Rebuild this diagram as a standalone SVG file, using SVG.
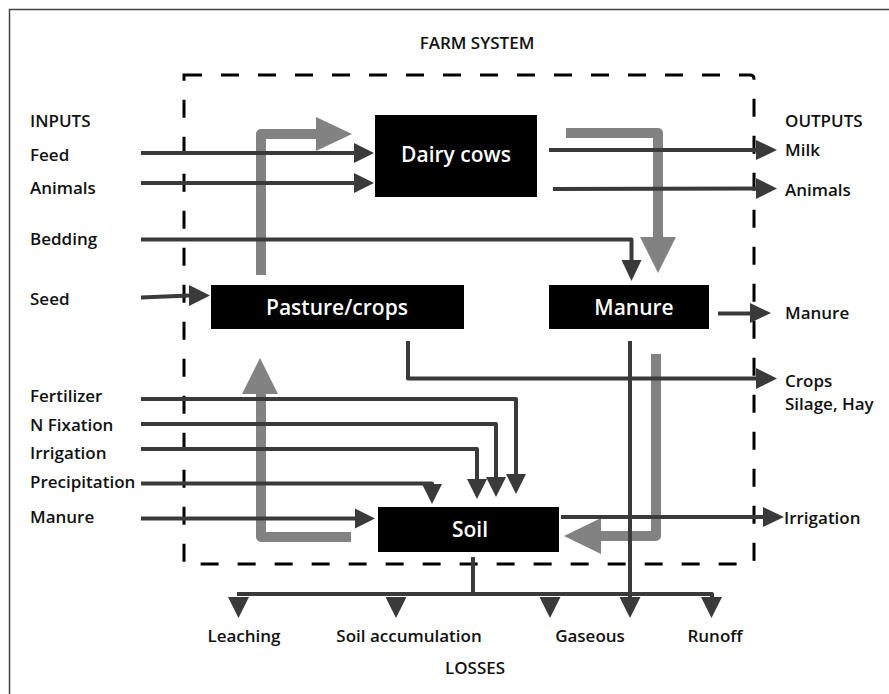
<svg xmlns="http://www.w3.org/2000/svg" width="889" height="694" viewBox="0 0 889 694">
<defs>
<style>
.t{font-family:"Open Sans","Noto Sans","Liberation Sans",sans-serif;font-weight:600;font-size:17px;fill:#111}
.bt{font-family:"Open Sans","Noto Sans","Liberation Sans",sans-serif;font-weight:600;font-size:21px;fill:#fff;text-anchor:middle}
.c{text-anchor:middle}
.ln{fill:none;stroke:#3a3a3a;stroke-width:4;stroke-linejoin:round}
.gl{fill:none;stroke:#828282;stroke-width:10;stroke-linejoin:round}
.ah{fill:#3a3a3a}
.gh{fill:#828282}
.box{fill:#000}
</style>
</defs>
<rect width="889" height="694" fill="#fff"/>
<path d="M9.5,694 V9.5 H889" fill="none" stroke="#444" stroke-width="1.5"/>
<text class="t c" x="477" y="49">FARM SYSTEM</text>
<path d="M184,75 H750 Q754,75 754,79 V560 Q754,564 750,564 H184 Z" fill="none" stroke="#000" stroke-width="3" stroke-dasharray="18 19"/>

<g id="labels">
<text class="t" x="30" y="127">INPUTS</text>
<text class="t" x="30" y="161">Feed</text>
<text class="t" x="30" y="194">Animals</text>
<text class="t" x="30" y="245">Bedding</text>
<text class="t" x="30" y="305">Seed</text>
<text class="t" x="30" y="402">Fertilizer</text>
<text class="t" x="30" y="431">N Fixation</text>
<text class="t" x="30" y="459">Irrigation</text>
<text class="t" x="30" y="488">Precipitation</text>
<text class="t" x="30" y="523">Manure</text>
<text class="t" x="785" y="127">OUTPUTS</text>
<text class="t" x="785" y="156">Milk</text>
<text class="t" x="785" y="196">Animals</text>
<text class="t" x="785" y="319">Manure</text>
<text class="t" x="785" y="387">Crops</text>
<text class="t" x="785" y="410">Silage, Hay</text>
<text class="t" x="784" y="524">Irrigation</text>
<text class="t c" x="244" y="642">Leaching</text>
<text class="t c" x="409" y="642">Soil accumulation</text>
<text class="t c" x="590" y="642">Gaseous</text>
<text class="t c" x="715" y="642">Runoff</text>
<text class="t c" x="475" y="674">LOSSES</text>
</g>

<g id="connectors">
<!-- gray flows -->
<path class="gl" d="M261,275 V134 H316"/>
<polygon class="gh" points="316,117 352,134 316,151"/>
<path class="gl" d="M566,133 H658 V238"/>
<polygon class="gh" points="640,237 676,237 658,273"/>
<path class="gl" d="M656,354 V536 H600"/>
<polygon class="gh" points="601,518 601,554 564,536"/>
<path class="gl" d="M351,537 H261 V393"/>
<polygon class="gh" points="242,394 278,394 260,358"/>
<!-- inputs -->
<path class="ln" d="M141,153 H355"/>
<polygon class="ah" points="354,143 374,153 354,163"/>
<path class="ln" d="M141,183 H355"/>
<polygon class="ah" points="354,173 374,183 354,193"/>
<path class="ln" d="M141,239.5 H631.5 V262"/>
<polygon class="ah" points="621.5,260 641.5,260 631.5,281"/>
<path class="ln" d="M141,297.5 L190,295.5"/>
<polygon class="ah" points="189,285 210,295.5 189,306"/>
<path class="ln" d="M141,399 H516 V476"/>
<polygon class="ah" points="506,474 526,474 516,494"/>
<path class="ln" d="M141,424 H496 V478"/>
<polygon class="ah" points="486,477 506,477 496,497"/>
<path class="ln" d="M141,449 H477 V480"/>
<polygon class="ah" points="467,479 487,479 477,499"/>
<path class="ln" d="M141,483.5 H432 V486"/>
<polygon class="ah" points="422,484 442,484 432,504"/>
<path class="ln" d="M141,518.5 H356"/>
<polygon class="ah" points="355,508.5 375,518.5 355,528.5"/>
<!-- outputs -->
<path class="ln" d="M549,150 H757"/>
<polygon class="ah" points="756,140 777,150 756,160"/>
<path class="ln" d="M553,189 L757,188.5"/>
<polygon class="ah" points="756,178 777,188.5 756,199"/>
<path class="ln" d="M718,313.5 H751"/>
<polygon class="ah" points="750,303 771,313 750,323"/>
<path class="ln" d="M408,341 V378.5 H757"/>
<polygon class="ah" points="756,368 777,378.5 756,389"/>
<path class="ln" d="M561,517 H764"/>
<polygon class="ah" points="763,507 784,517 763,527"/>
<!-- losses -->
<path class="ln" d="M630,341 V600"/>
<path class="ln" d="M473,557 V594"/>
<path class="ln" d="M237,594 H712 V598"/>
<polygon class="ah" points="228,597 249,597 238.5,618"/>
<polygon class="ah" points="385.5,597 406.5,597 396,618"/>
<polygon class="ah" points="539.5,597 560.5,597 550,618"/>
<polygon class="ah" points="619.5,597 640.5,597 630,618"/>
<polygon class="ah" points="701,597 722,597 711.5,618"/>
</g>

<g id="dairy-cows">
<rect class="box" x="375" y="115" width="162" height="82"/>
<text class="bt" x="456" y="162">Dairy cows</text>
</g>
<g id="pasture-crops">
<rect class="box" x="211" y="285" width="253" height="44"/>
<text class="bt" x="337" y="315">Pasture/crops</text>
</g>
<g id="manure">
<rect class="box" x="549" y="285" width="160" height="44"/>
<text class="bt" x="634" y="315">Manure</text>
</g>
<g id="soil">
<rect class="box" x="378" y="507" width="181" height="45"/>
<text class="bt" x="470" y="537">Soil</text>
</g>
</svg>
